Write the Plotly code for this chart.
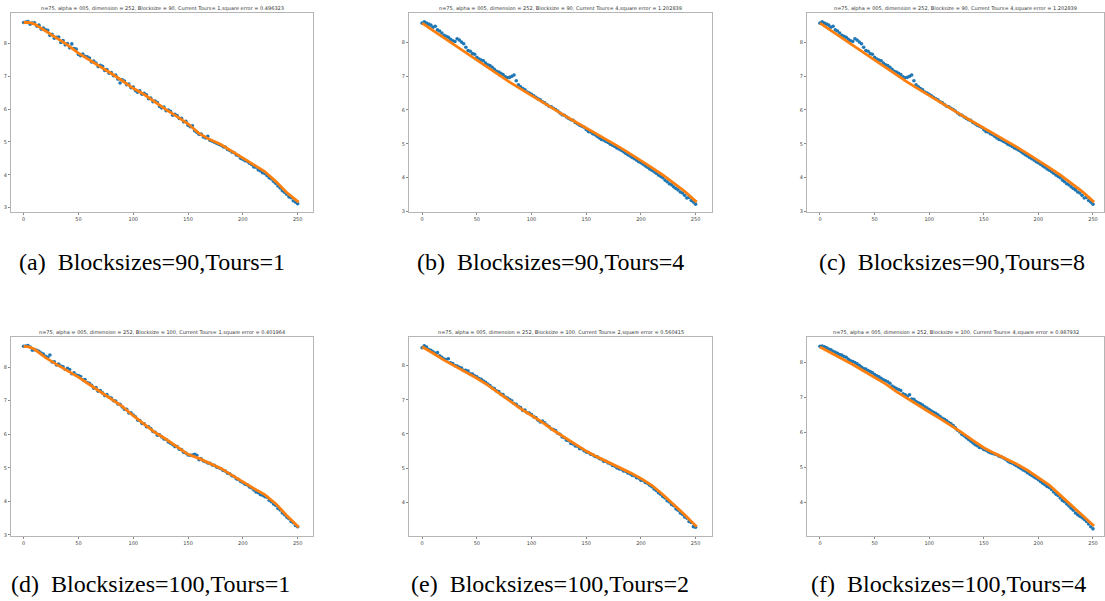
import plotly.graph_objects as go

# ---------------- data ----------------
X_ORANGE = [0, 5, 10, 20, 30, 40, 50, 60, 70, 80, 90, 100, 110, 120, 130,
            140, 150, 160, 170, 180, 190, 200, 210, 220, 230, 240, 250, 251]
X_BLUE = list(range(0, 251, 2))

orange_a = [8.63, 8.63, 8.58, 8.37, 8.14, 7.95, 7.70, 7.50, 7.29, 7.08, 6.86, 6.63, 6.44, 6.20,
            5.98, 5.77, 5.55, 5.26, 5.07, 4.92, 4.72, 4.50, 4.31, 4.10, 3.80, 3.46, 3.19, 3.17]
blue_a = [8.63, 8.64, 8.66, 8.58, 8.61, 8.62, 8.52, 8.55, 8.43, 8.46,
          8.41, 8.39, 8.24, 8.27, 8.15, 8.18, 8.19, 8.02, 8.08, 7.95,
          7.99, 7.86, 7.98, 7.84, 7.82, 7.66, 7.62, 7.67, 7.60, 7.59,
          7.55, 7.43, 7.46, 7.40, 7.29, 7.33, 7.30, 7.17, 7.20, 7.09,
          7.11, 7.01, 7.03, 6.91, 6.79, 6.89, 6.85, 6.74, 6.76, 6.65,
          6.67, 6.56, 6.51, 6.55, 6.45, 6.48, 6.43, 6.31, 6.33, 6.22,
          6.24, 6.20, 6.08, 6.03, 6.06, 5.95, 5.97, 5.93, 5.81, 5.84,
          5.80, 5.71, 5.72, 5.61, 5.63, 5.51, 5.46, 5.49, 5.34, 5.29,
          5.23, 5.24, 5.15, 5.12, 5.17, 5.05, 5.02, 4.99, 4.96, 4.93,
          4.90, 4.85, 4.84, 4.77, 4.74, 4.69, 4.67, 4.60, 4.58, 4.50,
          4.47, 4.43, 4.41, 4.35, 4.31, 4.24, 4.23, 4.15, 4.12, 4.06,
          4.04, 3.98, 3.91, 3.87, 3.80, 3.74, 3.66, 3.60, 3.52, 3.47,
          3.41, 3.33, 3.30, 3.21, 3.17, 3.12]

orange_b = [8.56, 8.45, 8.34, 8.12, 7.90, 7.69, 7.47, 7.26, 7.04, 6.82, 6.62, 6.42, 6.23, 6.04,
            5.84, 5.65, 5.47, 5.28, 5.10, 4.91, 4.71, 4.51, 4.30, 4.08, 3.85, 3.60, 3.31, 3.28]
blue_b = [8.56, 8.60, 8.56, 8.53, 8.50, 8.44, 8.47, 8.36, 8.33, 8.27,
          8.20, 8.17, 8.14, 8.08, 8.04, 8.02, 8.10, 8.06, 8.00, 7.95,
          7.85, 7.75, 7.73, 7.66, 7.64, 7.55, 7.50, 7.47, 7.45, 7.38,
          7.33, 7.31, 7.26, 7.20, 7.14, 7.12, 7.08, 7.04, 6.98, 6.95,
          6.96, 6.99, 7.03, 6.86, 6.74, 6.68, 6.63, 6.59, 6.53, 6.50,
          6.46, 6.42, 6.37, 6.33, 6.30, 6.24, 6.21, 6.16, 6.11, 6.09,
          6.05, 6.01, 5.97, 5.91, 5.86, 5.84, 5.79, 5.75, 5.71, 5.69,
          5.63, 5.59, 5.55, 5.52, 5.49, 5.42, 5.36, 5.35, 5.30, 5.27,
          5.22, 5.17, 5.13, 5.11, 5.07, 5.04, 4.99, 4.96, 4.92, 4.88,
          4.85, 4.81, 4.77, 4.72, 4.68, 4.64, 4.60, 4.56, 4.52, 4.47,
          4.44, 4.40, 4.35, 4.31, 4.26, 4.22, 4.18, 4.13, 4.08, 4.04,
          4.00, 3.93, 3.88, 3.82, 3.79, 3.73, 3.68, 3.64, 3.58, 3.55,
          3.48, 3.40, 3.42, 3.33, 3.28, 3.22]

# panel (c) shows the very same run as panel (b)
orange_c = list(orange_b)
blue_c = list(blue_b)

orange_d = [8.62, 8.60, 8.53, 8.28, 8.08, 7.90, 7.70, 7.48, 7.26, 7.05, 6.83, 6.55, 6.30, 6.05,
            5.85, 5.62, 5.40, 5.28, 5.13, 4.98, 4.78, 4.57, 4.38, 4.20, 3.93, 3.58, 3.26, 3.23]
blue_d = [8.62, 8.63, 8.64, 8.60, 8.50, 8.52, 8.50, 8.47, 8.42, 8.39,
          8.32, 8.29, 8.36, 8.15, 8.16, 8.06, 8.09, 8.03, 8.01, 7.93,
          7.96, 7.93, 7.80, 7.83, 7.76, 7.75, 7.72, 7.62, 7.63, 7.54,
          7.52, 7.46, 7.37, 7.39, 7.28, 7.30, 7.23, 7.15, 7.18, 7.10,
          7.08, 7.00, 6.99, 6.90, 6.89, 6.81, 6.74, 6.74, 6.63, 6.64,
          6.57, 6.52, 6.42, 6.41, 6.32, 6.31, 6.22, 6.22, 6.17, 6.08,
          6.06, 5.97, 5.98, 5.92, 5.86, 5.84, 5.77, 5.73, 5.69, 5.63,
          5.63, 5.55, 5.54, 5.46, 5.44, 5.38, 5.37, 5.38, 5.40, 5.37,
          5.24, 5.27, 5.20, 5.18, 5.14, 5.13, 5.08, 5.07, 5.02, 5.00,
          4.97, 4.92, 4.90, 4.84, 4.82, 4.76, 4.74, 4.67, 4.65, 4.59,
          4.56, 4.51, 4.49, 4.43, 4.40, 4.34, 4.28, 4.26, 4.20, 4.18,
          4.14, 4.12, 4.03, 3.99, 3.92, 3.88, 3.79, 3.74, 3.65, 3.60,
          3.53, 3.48, 3.40, 3.36, 3.28, 3.24]

orange_e = [8.55, 8.46, 8.36, 8.16, 7.98, 7.82, 7.63, 7.43, 7.20, 6.97, 6.74, 6.54, 6.34, 6.11,
            5.90, 5.69, 5.50, 5.33, 5.18, 5.02, 4.87, 4.70, 4.50, 4.23, 3.94, 3.64, 3.32, 3.29]
blue_e = [8.52, 8.58, 8.54, 8.47, 8.45, 8.40, 8.36, 8.38, 8.29, 8.24,
          8.19, 8.18, 8.20, 8.08, 8.06, 8.00, 7.99, 7.95, 7.93, 7.86,
          7.86, 7.84, 7.76, 7.75, 7.70, 7.67, 7.62, 7.60, 7.55, 7.51,
          7.46, 7.42, 7.35, 7.33, 7.26, 7.24, 7.17, 7.15, 7.08, 7.05,
          7.01, 6.97, 6.89, 6.87, 6.80, 6.77, 6.69, 6.70, 6.62, 6.61,
          6.57, 6.50, 6.48, 6.40, 6.35, 6.38, 6.33, 6.26, 6.22, 6.15,
          6.13, 6.10, 6.02, 5.99, 5.91, 5.89, 5.82, 5.80, 5.72, 5.71,
          5.65, 5.64, 5.57, 5.57, 5.51, 5.47, 5.46, 5.41, 5.39, 5.34,
          5.33, 5.28, 5.26, 5.20, 5.20, 5.15, 5.13, 5.08, 5.06, 5.01,
          4.98, 4.97, 4.92, 4.91, 4.86, 4.84, 4.79, 4.78, 4.72, 4.71,
          4.65, 4.64, 4.58, 4.56, 4.50, 4.46, 4.39, 4.35, 4.28, 4.24,
          4.17, 4.13, 4.05, 4.01, 3.94, 3.90, 3.81, 3.77, 3.69, 3.65,
          3.57, 3.54, 3.44, 3.41, 3.29, 3.27]

orange_f = [8.43, 8.35, 8.26, 8.10, 7.93, 7.75, 7.57, 7.38, 7.16, 6.96, 6.77, 6.58, 6.39, 6.20,
            5.99, 5.77, 5.56, 5.40, 5.25, 5.10, 4.92, 4.72, 4.50, 4.21, 3.93, 3.65, 3.36, 3.33]
blue_f = [8.45, 8.46, 8.44, 8.41, 8.37, 8.35, 8.31, 8.28, 8.25, 8.22,
          8.20, 8.16, 8.14, 8.08, 8.04, 8.02, 7.99, 7.95, 7.91, 7.86,
          7.82, 7.80, 7.76, 7.73, 7.70, 7.65, 7.61, 7.58, 7.54, 7.50,
          7.47, 7.44, 7.40, 7.32, 7.28, 7.25, 7.22, 7.19, 7.10, 7.07,
          7.03, 7.07, 6.95, 6.94, 6.88, 6.84, 6.81, 6.78, 6.73, 6.69,
          6.65, 6.61, 6.57, 6.54, 6.50, 6.45, 6.40, 6.37, 6.33, 6.28,
          6.24, 6.19, 6.13, 6.06, 6.01, 5.94, 5.90, 5.85, 5.80, 5.75,
          5.70, 5.65, 5.62, 5.57, 5.56, 5.51, 5.49, 5.45, 5.42, 5.40,
          5.38, 5.36, 5.32, 5.30, 5.27, 5.23, 5.18, 5.14, 5.12, 5.08,
          5.05, 5.01, 4.97, 4.93, 4.90, 4.85, 4.81, 4.77, 4.73, 4.69,
          4.65, 4.60, 4.55, 4.51, 4.46, 4.43, 4.37, 4.30, 4.24, 4.20,
          4.13, 4.06, 4.02, 3.96, 3.90, 3.84, 3.78, 3.70, 3.65, 3.61,
          3.57, 3.52, 3.46, 3.39, 3.31, 3.25]

TITLES = [
    "n=75, alpha = 005, dimension = 252, Blocksize = 90, Current Tours= 1,square error = 0.496323",
    "n=75, alpha = 005, dimension = 252, Blocksize = 90, Current Tours= 4,square error = 1.202839",
    "n=75, alpha = 005, dimension = 252, Blocksize = 90, Current Tours= 4,square error = 1.202839",
    "n=75, alpha = 005, dimension = 252, Blocksize = 100, Current Tours= 1,square error = 0.401964",
    "n=75, alpha = 005, dimension = 252, Blocksize = 100, Current Tours= 2,square error = 0.560415",
    "n=75, alpha = 005, dimension = 252, Blocksize = 100, Current Tours= 4,square error = 0.987932",
]
CAPTIONS = [
    "(a)\u00a0 Blocksizes=90,Tours=1",
    "(b)\u00a0 Blocksizes=90,Tours=4",
    "(c)\u00a0 Blocksizes=90,Tours=8",
    "(d)\u00a0 Blocksizes=100,Tours=1",
    "(e)\u00a0 Blocksizes=100,Tours=2",
    "(f)\u00a0 Blocksizes=100,Tours=4",
]
BLUES = [blue_a, blue_b, blue_c, blue_d, blue_e, blue_f]
ORANGES = [orange_a, orange_b, orange_c, orange_d, orange_e, orange_f]
Y_TICKS = [3, 4, 5, 6, 7, 8]
X_TICKS = [0, 50, 100, 150, 200, 250]

# ---------------- layout (screen-pixel geometry) ----------------
W, H = 1105, 601
FRAMES_X = [(11, 313), (409, 712), (807, 1104), (11, 313), (409, 712), (807, 1104)]
FRAMES_Y = [(13, 213), (13, 213), (13, 213), (338, 538), (338, 538), (338, 538)]
X_RANGES = [(-11.5, 264), (-12, 265), (-11.9, 260.1), (-11.5, 264), (-12, 265), (-11.9, 260.1)]
Y_RANGES = [(2.86, 8.92), (2.98, 8.86), (2.98, 8.86), (2.96, 8.90), (3.01, 8.84), (3.04, 8.72)]
TITLE_Y = [9, 9, 9, 334, 334, 334]
CAP_X = [152, 550, 952, 151, 550, 948]
CAP_Y = [263, 263, 263, 586, 586, 586]


def px(v):
    return v / W


def py(v):
    return 1 - v / H


fig = go.Figure()
layout = dict(width=W, height=H, autosize=False, margin=dict(l=0, r=0, t=0, b=0),
              paper_bgcolor="white", plot_bgcolor="white", showlegend=False)
annotations = []
for i in range(6):
    n = "" if i == 0 else str(i + 1)
    xa, ya = "x" + n, "y" + n
    fig.add_trace(go.Scatter(x=X_BLUE, y=BLUES[i], mode="markers", xaxis=xa, yaxis=ya,
                             marker=dict(color="#1f77b4", size=3.6, line=dict(width=0))))
    fig.add_trace(go.Scatter(x=X_ORANGE, y=ORANGES[i], mode="lines", xaxis=xa, yaxis=ya,
                             line=dict(color="#ff7f0e", width=2.8)))
    x0, x1 = FRAMES_X[i]
    y0, y1 = FRAMES_Y[i]
    axstyle = dict(showgrid=False, zeroline=False, showline=True, mirror=True,
                   linecolor="#b5b5b5", linewidth=1, ticks="outside", ticklen=2,
                   tickcolor="#888", tickfont=dict(size=5, color="#444", family="DejaVu Sans"))
    layout["xaxis" + n] = dict(domain=[px(x0), px(x1)], range=list(X_RANGES[i]),
                               anchor=ya, tickvals=X_TICKS, **axstyle)
    layout["yaxis" + n] = dict(domain=[py(y1), py(y0)], range=list(Y_RANGES[i]),
                               anchor=xa, tickvals=Y_TICKS, **axstyle)
    annotations.append(dict(text=TITLES[i], xref="paper", yref="paper",
                            x=px((x0 + x1) / 2), y=py(TITLE_Y[i]),
                            xanchor="center", yanchor="middle", showarrow=False,
                            font=dict(size=5, color="#333", family="DejaVu Sans")))
    annotations.append(dict(text=CAPTIONS[i], xref="paper", yref="paper",
                            x=px(CAP_X[i]), y=py(CAP_Y[i]),
                            xanchor="center", yanchor="middle", showarrow=False,
                            font=dict(size=24, color="black",
                                      family="Liberation Serif, DejaVu Serif, serif")))
layout["annotations"] = annotations
fig.update_layout(**layout)
# remove the default 8px page margin so the figure sits at the window's top-left corner
fig.write_html("out.html",
               config={"displayModeBar": False, "staticPlot": True},
               post_script="document.body.style.margin='0';document.body.style.padding='0';")
